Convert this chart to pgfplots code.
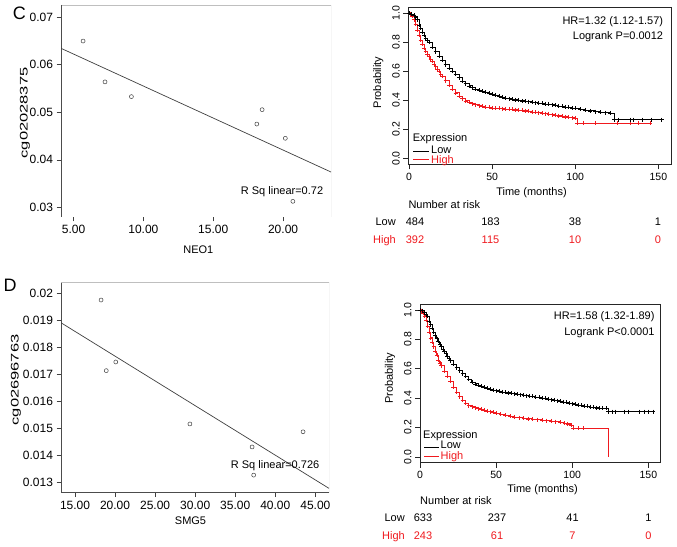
\documentclass[border=0pt]{standalone}
\usepackage{fontspec}
\setmainfont{Liberation Sans}
\usepackage{graphicx}
\usepackage{pgfplots}
\pgfplotsset{compat=1.18}
\definecolor{kmred}{RGB}{240,25,30}
\newcommand{\tf}{\fontsize{11}{13}\selectfont}
\pgfplotsset{
  spss/.style={scale only axis, anchor=south west,
    tick pos=left, tick align=outside, major tick length=4.5pt,
    scaled ticks=false,
    axis line style={draw=none},
    tick style={black!75, line width=0.6pt},
    tick label style={font=\fontsize{12}{14}\selectfont},
    /pgf/number format/assume math mode=true},
  km/.style={scale only axis, anchor=south west,
    tick pos=left, tick align=outside, major tick length=5pt,
    scaled ticks=false,
    axis line style={black!85, line width=0.6pt},
    tick style={black!85, line width=0.6pt},
    tick label style={font=\fontsize{10.5}{12}\selectfont},
    yticklabel style={rotate=90, anchor=south},
    xtick={0,50,100,150}, ytick={0,0.2,0.4,0.6,0.8,1},
    yticklabels={0.0,0.2,0.4,0.6,0.8,1.0},
    ymin=-0.04, ymax=1.04,
    /pgf/number format/assume math mode=true},
  lowc/.style={black, line width=0.6pt, const plot, mark=+, mark size=2pt, mark options={line width=0.45pt}},
  highc/.style={kmred, line width=0.6pt, const plot, mark=+, mark size=2pt, mark options={line width=0.45pt}},
}
\begin{document}
\begin{tikzpicture}
\useasboundingbox (0,0) rectangle (677pt,546pt);
\fill[white] (0,0) rectangle (677pt,546pt);

% ---------------- Scatter C ----------------
\begin{axis}[spss, at={(61pt,329pt)}, width=270pt, height=212pt,
  xmin=4.1, xmax=23.43, ymin=0.02796, ymax=0.07259,
  xtick={5,10,15,20}, xticklabels={5.00,10.00,15.00,20.00},
  ytick={0.03,0.04,0.05,0.06,0.07}, yticklabels={0.03,0.04,0.05,0.06,0.07}]
\draw[black!25, line width=0.7pt] (rel axis cs:0,1) -- (rel axis cs:1,1) -- (rel axis cs:1,0);
\draw[black!70, line width=0.7pt] (rel axis cs:0,1) -- (rel axis cs:0,0) -- (rel axis cs:1,0);
\addplot[only marks, mark=o, mark size=2pt, black!75, mark options={line width=0.5pt}]
  coordinates {(5.68,0.0650) (7.25,0.0564) (9.14,0.0533) (18.12,0.04753) (18.5,0.05055) (20.16,0.04453) (20.7,0.03126)};
\addplot[black!75, line width=0.7pt] coordinates {(4.1,0.06347) (23.43,0.03743)};
\end{axis}
\node[anchor=base west, inner sep=0pt, font=\fontsize{18}{20}\selectfont] at (12.7pt,526.7pt) {C};
\node[anchor=base west, inner sep=0pt, font=\tf] at (240.7pt,351pt) {R Sq linear=0.72};
\node[anchor=base, inner sep=0pt, font=\tf] at (198.3pt,292pt) {NEO1};
\node[rotate=90, inner sep=0pt, font=\tf] at (25pt,433pt) {\scalebox{1.5}[1]{cg02028375}};

% ---------------- Scatter D ----------------
\begin{axis}[spss, at={(61pt,53.3pt)}, width=268pt, height=210pt,
  xmin=13.25, xmax=46.7, ymin=0.01263, ymax=0.02039,
  xtick={15,20,25,30,35,40,45}, xticklabels={15.00,20.00,25.00,30.00,35.00,40.00,45.00},
  ytick={0.013,0.014,0.015,0.016,0.017,0.018,0.019,0.02},
  yticklabels={0.013,0.014,0.015,0.016,0.017,0.018,0.019,0.02}]
\draw[black!25, line width=0.7pt] (rel axis cs:0,1) -- (rel axis cs:1,1) -- (rel axis cs:1,0);
\draw[black!70, line width=0.7pt] (rel axis cs:0,1) -- (rel axis cs:0,0) -- (rel axis cs:1,0);
\addplot[only marks, mark=o, mark size=2pt, black!75, mark options={line width=0.5pt}]
  coordinates {(18.25,0.01975) (18.9,0.01714) (20.09,0.01746) (29.34,0.01517) (37.1,0.01432) (37.3,0.01328) (43.46,0.01488)};
\addplot[black!75, line width=0.7pt] coordinates {(13.25,0.01891) (46.7,0.01279)};
\end{axis}
\node[anchor=base west, inner sep=0pt, font=\fontsize{18}{20}\selectfont] at (3.3pt,254pt) {D};
\node[anchor=base west, inner sep=0pt, font=\tf] at (230.7pt,77.7pt) {R Sq linear=0.726};
\node[anchor=base, inner sep=0pt, font=\tf] at (190.5pt,21pt) {SMG5};
\node[rotate=90, inner sep=0pt, font=\tf] at (16pt,166pt) {\scalebox{1.5}[1]{cg02696763}};

% ---------------- KM C ----------------
\begin{axis}[km, at={(408.3pt,381.7pt)}, width=262.7pt, height=157pt,
  xmin=-0.4, xmax=157.6]
\addplot[highc] coordinates {(0,1)(1,0.995)(2,0.98)(3,0.955)(4,0.925)(5,0.885)(6,0.85)(7,0.815)(8,0.785)(9,0.76)(10,0.74)(11,0.72)(12,0.70)(13,0.685)(14,0.668)(15,0.65)(16,0.632)(17,0.615)(18,0.6)(19,0.582)(20,0.565)(22,0.535)(24,0.505)(26,0.477)(28,0.452)(30,0.43)(32,0.412)(34,0.397)(36,0.386)(38,0.377)(40,0.37)(42,0.364)(44,0.358)(46,0.354)(48,0.351)(50,0.348)(52,0.346)(54,0.344)(56,0.343)(58,0.341)(60,0.339)(62,0.337)(64,0.335)(66,0.333)(68,0.331)(70,0.328)(72,0.325)(74,0.321)(76,0.318)(78,0.315)(80,0.312)(82,0.309)(84,0.306)(86,0.302)(88,0.298)(90,0.294)(92,0.29)(94,0.287)(96,0.284)(98,0.281)(100,0.279)(101,0.245)(105,0.245)(112,0.245)(125,0.245)(133,0.245)(138,0.245)(145,0.245)};
\addplot[lowc] coordinates {(0,1)(1.5,0.995)(3,0.985)(4,0.975)(5,0.955)(6,0.92)(7,0.895)(8,0.87)(9,0.85)(10,0.83)(11,0.815)(12,0.8)(14,0.765)(16,0.735)(18,0.705)(20,0.675)(22,0.645)(24,0.62)(26,0.6)(28,0.578)(30,0.556)(32,0.534)(34,0.515)(36,0.5)(38,0.488)(40,0.478)(42,0.47)(44,0.462)(46,0.455)(48,0.449)(50,0.443)(52,0.437)(54,0.43)(56,0.423)(58,0.417)(60,0.412)(62,0.408)(64,0.404)(66,0.4)(68,0.397)(70,0.394)(72,0.391)(74,0.388)(76,0.385)(78,0.382)(80,0.379)(82,0.376)(84,0.373)(86,0.37)(88,0.366)(90,0.362)(92,0.358)(94,0.355)(96,0.352)(98,0.348)(100,0.344)(103,0.34)(106,0.334)(109,0.328)(112,0.323)(115,0.318)(118,0.315)(121,0.314)(123.5,0.268)(126,0.268)(133,0.268)(135,0.268)(140,0.268)(146,0.268)(152,0.268)};
\end{axis}
\node[anchor=base east, inner sep=0pt, font=\tf] at (663.3pt,521.7pt) {HR=1.32 (1.12-1.57)};
\node[anchor=base east, inner sep=0pt, font=\tf] at (663.3pt,506pt) {Logrank P=0.0012};
\node[rotate=90, inner sep=0pt, font=\tf] at (378.3pt,463.5pt) {Probability};
\node[anchor=base, inner sep=0pt, font=\tf] at (531.5pt,350pt) {Time (months)};
\node[anchor=base west, inner sep=0pt, font=\tf] at (412.7pt,404.3pt) {Expression};
\draw[black, line width=0.6pt] (413.3pt,395pt) -- (428.5pt,395pt);
\node[anchor=base west, inner sep=0pt, font=\tf] at (431pt,392.7pt) {Low};
\draw[kmred, line width=0.6pt] (413.3pt,386.5pt) -- (428.5pt,386.5pt);
\node[anchor=base west, inner sep=0pt, font=\tf, text=kmred] at (431pt,382.7pt) {High};
\node[anchor=base west, inner sep=0pt, font=\tf] at (408.3pt,337.7pt) {Number at risk};
\node[anchor=base east, inner sep=0pt, font=\tf] at (396pt,320pt) {Low};
\node[anchor=base, inner sep=0pt, font=\tf] at (415pt,320pt) {484};
\node[anchor=base, inner sep=0pt, font=\tf] at (490.5pt,320pt) {183};
\node[anchor=base, inner sep=0pt, font=\tf] at (575pt,320pt) {38};
\node[anchor=base, inner sep=0pt, font=\tf] at (658pt,320pt) {1};
\node[anchor=base east, inner sep=0pt, font=\tf, text=kmred] at (396pt,302.7pt) {High};
\node[anchor=base, inner sep=0pt, font=\tf, text=kmred] at (415pt,302.7pt) {392};
\node[anchor=base, inner sep=0pt, font=\tf, text=kmred] at (490.5pt,302.7pt) {115};
\node[anchor=base, inner sep=0pt, font=\tf, text=kmred] at (575pt,302.7pt) {10};
\node[anchor=base, inner sep=0pt, font=\tf, text=kmred] at (658pt,302.7pt) {0};

% ---------------- KM D ----------------
\begin{axis}[km, at={(420pt,83.3pt)}, width=240.7pt, height=158.7pt,
  xmin=0, xmax=158.1]
\addplot[highc] coordinates {(0,1)(1,0.995)(2,0.98)(3,0.96)(4,0.93)(5,0.89)(6,0.85)(7,0.81)(8,0.78)(9,0.75)(10,0.72)(11,0.69)(12,0.66)(13,0.64)(14,0.62)(16,0.585)(18,0.55)(20,0.515)(22,0.475)(24,0.44)(26,0.41)(28,0.385)(30,0.363)(32,0.349)(34,0.341)(36,0.335)(38,0.328)(40,0.323)(42,0.318)(44,0.313)(46,0.308)(48,0.303)(50,0.298)(53,0.29)(56,0.283)(59,0.276)(62,0.272)(65,0.267)(68,0.263)(71,0.259)(74,0.256)(77,0.253)(80,0.25)(83,0.247)(86,0.244)(89,0.24)(92,0.236)(95,0.23)(97,0.225)(99,0.216)(100.5,0.193)(104,0.193)(107,0.193)};
\addplot[kmred, line width=0.6pt] coordinates {(107,0.193)(123.5,0.193)(123.5,0)};
\addplot[lowc] coordinates {(0,1)(1.5,0.995)(3,0.985)(4,0.972)(5,0.955)(6,0.925)(7,0.9)(8,0.875)(9,0.85)(10,0.825)(11,0.805)(12,0.785)(13,0.767)(14,0.75)(15,0.735)(16,0.72)(17,0.703)(18,0.686)(19,0.67)(20,0.655)(22,0.63)(24,0.607)(26,0.587)(28,0.567)(30,0.547)(32,0.528)(34,0.51)(36,0.497)(38,0.487)(40,0.479)(42,0.472)(44,0.466)(46,0.46)(48,0.455)(50,0.45)(52,0.446)(54,0.442)(56,0.439)(58,0.436)(60,0.433)(62,0.43)(64,0.427)(66,0.424)(68,0.42)(70,0.417)(72,0.414)(74,0.411)(76,0.408)(78,0.404)(80,0.401)(82,0.397)(84,0.394)(86,0.39)(88,0.386)(90,0.382)(92,0.378)(94,0.374)(96,0.37)(98,0.366)(100,0.362)(102,0.358)(104,0.354)(106,0.35)(108,0.346)(110,0.343)(112,0.34)(114,0.337)(116,0.334)(118,0.332)(120,0.331)(122,0.33)(123.5,0.307)(126,0.307)(128,0.307)(134,0.307)(137,0.307)(144,0.307)(147,0.307)(150,0.307)(153,0.307)};
\end{axis}
\node[anchor=base east, inner sep=0pt, font=\tf] at (654.7pt,226pt) {HR=1.58 (1.32-1.89)};
\node[anchor=base east, inner sep=0pt, font=\tf] at (654.7pt,210pt) {Logrank P<0.0001};
\node[rotate=90, inner sep=0pt, font=\tf] at (390pt,167.7pt) {Probability};
\node[anchor=base, inner sep=0pt, font=\tf] at (542.5pt,53.7pt) {Time (months)};
\node[anchor=base west, inner sep=0pt, font=\tf] at (423pt,107.7pt) {Expression};
\draw[black, line width=0.6pt] (424pt,98.3pt) -- (438.7pt,98.3pt);
\node[anchor=base west, inner sep=0pt, font=\tf] at (440.5pt,97pt) {Low};
\draw[kmred, line width=0.6pt] (424pt,90pt) -- (438.7pt,90pt);
\node[anchor=base west, inner sep=0pt, font=\tf, text=kmred] at (440.5pt,86.7pt) {High};
\node[anchor=base west, inner sep=0pt, font=\tf] at (420pt,41.7pt) {Number at risk};
\node[anchor=base east, inner sep=0pt, font=\tf] at (405pt,24.3pt) {Low};
\node[anchor=base, inner sep=0pt, font=\tf] at (423pt,24.3pt) {633};
\node[anchor=base, inner sep=0pt, font=\tf] at (497pt,24.3pt) {237};
\node[anchor=base, inner sep=0pt, font=\tf] at (572.5pt,24.3pt) {41};
\node[anchor=base, inner sep=0pt, font=\tf] at (648.5pt,24.3pt) {1};
\node[anchor=base east, inner sep=0pt, font=\tf, text=kmred] at (405pt,7pt) {High};
\node[anchor=base, inner sep=0pt, font=\tf, text=kmred] at (423pt,7pt) {243};
\node[anchor=base, inner sep=0pt, font=\tf, text=kmred] at (497pt,7pt) {61};
\node[anchor=base, inner sep=0pt, font=\tf, text=kmred] at (572.5pt,7pt) {7};
\node[anchor=base, inner sep=0pt, font=\tf, text=kmred] at (648.5pt,7pt) {0};
\end{tikzpicture}
\end{document}
